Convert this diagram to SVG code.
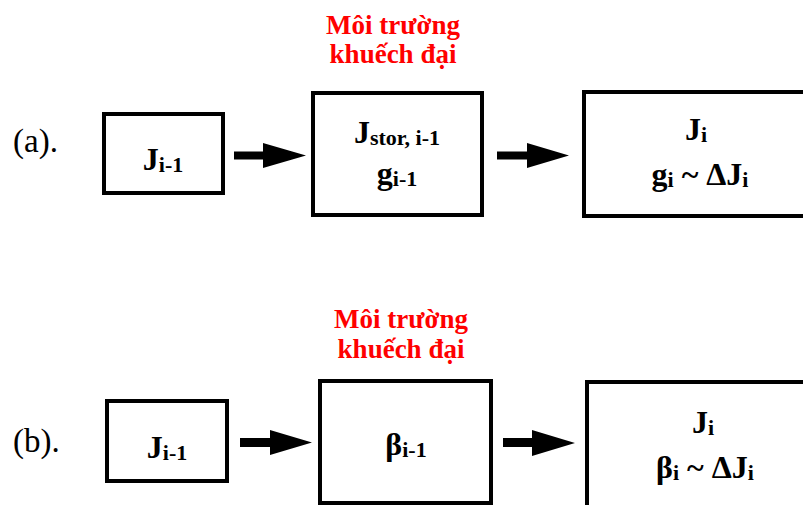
<svg xmlns="http://www.w3.org/2000/svg" width="803" height="505" viewBox="0 0 803 505">
<style>
.box{fill:#fff;stroke:#000;stroke-width:4}
.arr{fill:#000}
.t{font-family:'Liberation Serif','Times New Roman',serif;font-weight:bold;font-size:32px;fill:#000;text-anchor:middle}
.s{font-size:22px}
.lbl{font-family:'Liberation Serif','Times New Roman',serif;font-size:33px;fill:#000}
.red{font-family:'Liberation Serif','Times New Roman',serif;font-weight:bold;font-size:27px;fill:#ff0000;text-anchor:middle}
</style>
<rect width="803" height="505" fill="#fff"/>
<text class="lbl" x="13" y="152">(a).</text>
<text class="lbl" x="13" y="452">(b).</text>
<g id="a-gain-label"><text class="red" x="393" y="34">Môi trường</text><text class="red" x="393" y="63">khuếch đại</text></g>
<g id="b-gain-label"><text class="red" x="401" y="328">Môi trường</text><text class="red" x="401" y="358">khuếch đại</text></g>
<g id="a1"><rect class="box" x="104" y="114" width="119" height="79"/><text class="t" x="163" y="170">J<tspan class="s" dy="2">i-1</tspan></text></g>
<g id="a2"><rect class="box" x="313" y="93" width="169" height="122"/><text class="t" x="397" y="143">J<tspan class="s" dy="2">stor, i-1</tspan></text><text class="t" x="397" y="184">g<tspan class="s" dy="2">i-1</tspan></text></g>
<g id="a3"><rect class="box" x="584" y="92" width="240" height="124"/><text class="t" x="696" y="140">J<tspan class="s" dy="2">i</tspan></text><text class="t" x="700" y="185">g<tspan class="s" dy="2">i</tspan><tspan dy="-2"> ~ ΔJ</tspan><tspan class="s" dy="2">i</tspan></text></g>
<g id="b1"><rect class="box" x="107" y="401" width="120" height="80"/><text class="t" x="167" y="458">J<tspan class="s" dy="2">i-1</tspan></text></g>
<g id="b2"><rect class="box" x="320" y="381" width="171" height="122"/><text class="t" x="406" y="455">β<tspan class="s" dy="2">i-1</tspan></text></g>
<g id="b3"><rect class="box" x="587" y="382" width="240" height="140"/><text class="t" x="703" y="433">J<tspan class="s" dy="2">i</tspan></text><text class="t" x="705" y="478">β<tspan class="s" dy="2">i</tspan><tspan dy="-2"> ~ ΔJ</tspan><tspan class="s" dy="2">i</tspan></text></g>
<g id="connectors">
<polygon class="arr" points="234,151.5 263,151.5 263,143 306,155.5 263,168 263,159.5 234,159.5"/>
<polygon class="arr" points="497,151.5 527,151.5 527,143 569,155.5 527,168 527,159.5 497,159.5"/>
<polygon class="arr" points="240,438 270,438 270,430 312,442.5 270,455 270,447 240,447"/>
<polygon class="arr" points="503,438 532,438 532,430 575,443 532,456 532,447 503,447"/>
</g>
</svg>
